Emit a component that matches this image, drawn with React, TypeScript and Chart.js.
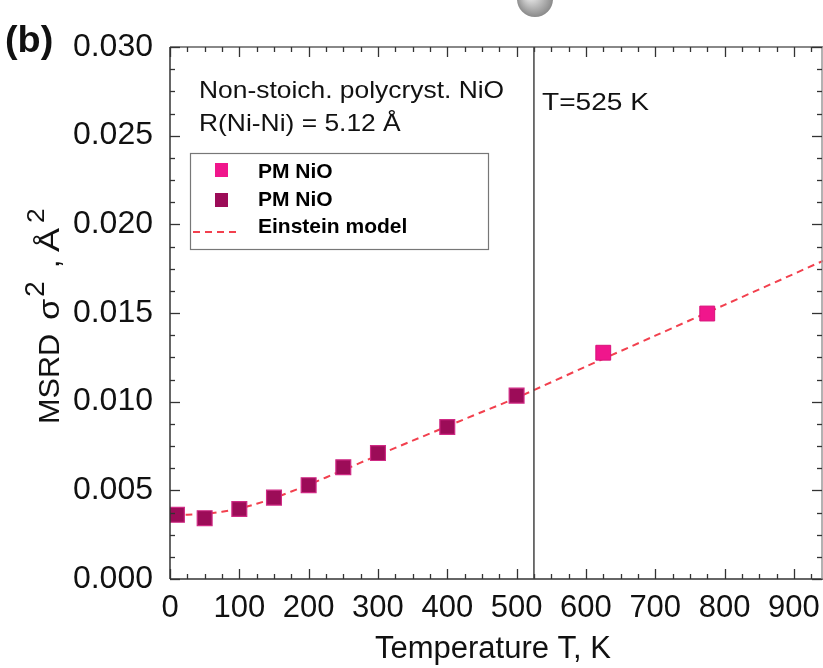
import React, { useEffect, useRef } from 'react';
import { Chart, registerables } from 'chart.js';

Chart.register(...registerables);

const FAMILY = '"Liberation Sans", Arial, sans-serif';

// Einstein model curve
const modelT = [5, 25, 50, 75, 100, 125, 150, 200, 250, 300, 350, 400, 450, 500, 600, 700, 800, 942];
const modelMSRD = [0.00362, 0.00363, 0.00367, 0.00379, 0.00397, 0.00424, 0.00456, 0.00532, 0.00614, 0.00698, 0.0078, 0.00861, 0.00942, 0.01022, 0.01198, 0.01372, 0.01546, 0.01794];

// PM NiO (dark) points
const darkT = [10, 50, 100, 150, 200, 250, 300, 400, 500];
const darkMSRD = [0.00362, 0.00343, 0.00395, 0.00459, 0.00529, 0.0063, 0.0071, 0.00857, 0.01034];

// PM NiO (pink) points
const pinkT = [625, 775];
const pinkMSRD = [0.01276, 0.01497];

const xMin = 0;
const xMax = 942;
const yMin = 0;
const yMax = 0.03;
const xStep = 100;
const xMinorStep = 25;
const yStep = 0.005;
const yMinorStep = 0.00125;
const markerT = 525;

const legendLabels = ['PM NiO', 'PM NiO', 'Einstein model'];
const noteLines = ['Non-stoich. polycryst. NiO', 'R(Ni-Ni) = 5.12 Å'];
const markerLabel = 'T=525 K';
const xTitle = 'Temperature T, K';
const panelLabel = '(b)';

const PINK = '#f0168c';
const PINK_EDGE = '#d8127a';
const DARK = '#9c0c58';
const DARK_EDGE = '#cf2a84';
const LINE = '#f2404e';

function txt(ctx: CanvasRenderingContext2D, s: string, x: number, y: number, font: string, sx = 1, align: CanvasTextAlign = 'left') {
  ctx.save();
  ctx.font = font;
  ctx.translate(x, y);
  ctx.scale(sx, 1);
  ctx.textAlign = align;
  ctx.textBaseline = 'alphabetic';
  ctx.fillText(s, 0, 0);
  ctx.restore();
}

function seg(ctx: CanvasRenderingContext2D, x1: number, y1: number, x2: number, y2: number) {
  ctx.beginPath();
  ctx.moveTo(x1, y1);
  ctx.lineTo(x2, y2);
  ctx.stroke();
}

const decor = {
  id: 'decor',
  afterDraw(chart: any) {
    const { ctx, chartArea: a, scales } = chart;
    const xs = scales.x;
    const ys = scales.y;
    ctx.save();

    // frame
    ctx.strokeStyle = '#333';
    ctx.lineWidth = 1.5;
    seg(ctx, a.left, a.top, a.left, a.bottom);
    seg(ctx, a.left, a.bottom, a.right, a.bottom);
    ctx.strokeStyle = '#888';
    ctx.lineWidth = 2;
    seg(ctx, a.left, a.top, a.right, a.top);
    ctx.strokeStyle = '#999';
    ctx.lineWidth = 1.5;
    seg(ctx, a.right - 1, a.top, a.right - 1, a.bottom);

    // ticks (inward)
    ctx.strokeStyle = '#333';
    ctx.lineWidth = 1.3;
    for (let t = xMin; t <= xMax; t += xMinorStep) {
      const px = Math.round(xs.getPixelForValue(t)) + 0.5;
      const L = t % xStep === 0 ? 10 : 5;
      seg(ctx, px, a.bottom, px, a.bottom - L);
      seg(ctx, px, a.top, px, a.top + L);
    }
    const nY = Math.round((yMax - yMin) / yMinorStep);
    for (let i = 0; i <= nY; i++) {
      const v = yMin + i * yMinorStep;
      const py = Math.round(ys.getPixelForValue(v)) + 0.5;
      const L = i % 4 === 0 ? 10 : 5;
      seg(ctx, a.left, py, a.left + L, py);
      seg(ctx, a.right - 1, py, a.right - 1 - L, py);
    }

    // vertical marker line
    const mx = xs.getPixelForValue(markerT);
    ctx.strokeStyle = '#444';
    ctx.lineWidth = 1.5;
    seg(ctx, mx, a.top, mx, a.bottom);

    ctx.fillStyle = '#111';
    // annotation
    txt(ctx, noteLines[0], 199, 98, `24px ${FAMILY}`, 1.1);
    txt(ctx, noteLines[1], 199, 131, `24px ${FAMILY}`, 1.1);
    txt(ctx, markerLabel, 542, 110, `24px ${FAMILY}`, 1.17);

    // legend box
    ctx.strokeStyle = '#777';
    ctx.lineWidth = 1.2;
    ctx.strokeRect(190.5, 153.5, 298, 96);
    // legend symbols
    ctx.fillStyle = PINK;
    ctx.fillRect(215, 163, 13, 14);
    ctx.fillStyle = DARK;
    ctx.fillRect(215, 193, 13, 14);
    ctx.strokeStyle = LINE;
    ctx.lineWidth = 2;
    ctx.setLineDash([7, 5]);
    seg(ctx, 193, 232, 240, 232);
    ctx.setLineDash([]);
    ctx.fillStyle = '#000';
    txt(ctx, legendLabels[0], 258, 178, `bold 21px ${FAMILY}`);
    txt(ctx, legendLabels[1], 258, 206, `bold 21px ${FAMILY}`);
    txt(ctx, legendLabels[2], 258, 233, `bold 21px ${FAMILY}`);

    // panel label
    ctx.fillStyle = '#111';
    txt(ctx, panelLabel, 5, 52, `bold 36px ${FAMILY}`, 1.05);

    // x title
    txt(ctx, xTitle, 493, 658, `31px ${FAMILY}`, 1, 'center');

    // y title with superscripts (pieces placed along rotated axis)
    ctx.save();
    ctx.translate(59, 424);
    ctx.rotate(-Math.PI / 2);
    ctx.textAlign = 'left';
    ctx.textBaseline = 'alphabetic';
    const put = (s: string, pos: number, size: number, dy: number, sx: number) => {
      ctx.save();
      ctx.font = `${size}px ${FAMILY}`;
      ctx.translate(pos, dy);
      ctx.scale(sx, 1);
      ctx.fillText(s, 0, 0);
      ctx.restore();
    };
    put('MSRD', 0, 30, 0, 1.02);
    put('σ', 104, 30, 0, 1.15);
    put('2', 127, 27, -15, 1.05);
    put(',', 156, 30, 0, 1);
    put('Å', 172, 30, 0, 1.2);
    put('2', 201, 24, -15, 1.1);
    ctx.restore();

    // decorative sphere at top
    const g = ctx.createRadialGradient(530, -6, 2, 535, -1, 19);
    g.addColorStop(0, '#eeeeee');
    g.addColorStop(1, '#858585');
    ctx.fillStyle = g;
    ctx.beginPath();
    ctx.ellipse(535, -1, 18, 18, 0, 0, Math.PI * 2);
    ctx.fill();

    ctx.restore();
  },
};

export default function App() {
  const ref = useRef<HTMLCanvasElement | null>(null);
  useEffect(() => {
    if (!ref.current) return;
    const chart = new Chart(ref.current, {
      type: 'scatter',
      data: {
        datasets: [
          {
            label: legendLabels[0],
            data: pinkT.map((t, i) => ({ x: t, y: pinkMSRD[i] })),
            pointStyle: 'rect',
            pointRadius: 10.5,
            backgroundColor: PINK,
            borderColor: PINK_EDGE,
            borderWidth: 1,
          },
          {
            label: legendLabels[1],
            data: darkT.map((t, i) => ({ x: t, y: darkMSRD[i] })),
            pointStyle: 'rect',
            pointRadius: 10.5,
            backgroundColor: DARK,
            borderColor: DARK_EDGE,
            borderWidth: 1.2,
          },
          {
            label: legendLabels[2],
            data: modelT.map((t, i) => ({ x: t, y: modelMSRD[i] })),
            showLine: true,
            pointRadius: 0,
            borderColor: LINE,
            borderWidth: 2,
            borderDash: [7, 5],
            fill: false,
            tension: 0.3,
          } as any,
        ],
      },
      options: {
        responsive: false,
        animation: false,
        layout: { padding: { top: 47, right: 0, left: 0, bottom: 0 }, autoPadding: false } as any,
        plugins: { legend: { display: false }, tooltip: { enabled: false } },
        scales: {
          x: {
            type: 'linear',
            min: xMin,
            max: xMax,
            grid: { display: false, drawTicks: false },
            border: { display: false },
            ticks: {
              stepSize: xStep,
              includeBounds: false,
              autoSkip: false,
              maxRotation: 0,
              padding: 11,
              color: '#111',
              font: { size: 31, family: FAMILY },
            },
            afterFit: (s: any) => { s.height = 89; s.paddingLeft = 0; s.paddingRight = 0; },
          },
          y: {
            type: 'linear',
            min: yMin,
            max: yMax,
            grid: { display: false, drawTicks: false },
            border: { display: false },
            ticks: {
              stepSize: yStep,
              includeBounds: false,
              padding: 17,
              color: '#111',
              font: { size: 32, family: FAMILY },
              callback: (v: any) => Number(v).toFixed(3),
            },
            afterFit: (s: any) => { s.width = 170; s.paddingTop = 0; s.paddingBottom = 0; },
          },
        },
      },
      plugins: [decor],
    });
    return () => chart.destroy();
  }, []);
  return (
    <div style={{ position: 'absolute', left: 0, top: 0, width: 823, height: 668, background: '#fff' }}>
      <canvas ref={ref} width={823} height={668} style={{ display: 'block' }} />
    </div>
  );
}
